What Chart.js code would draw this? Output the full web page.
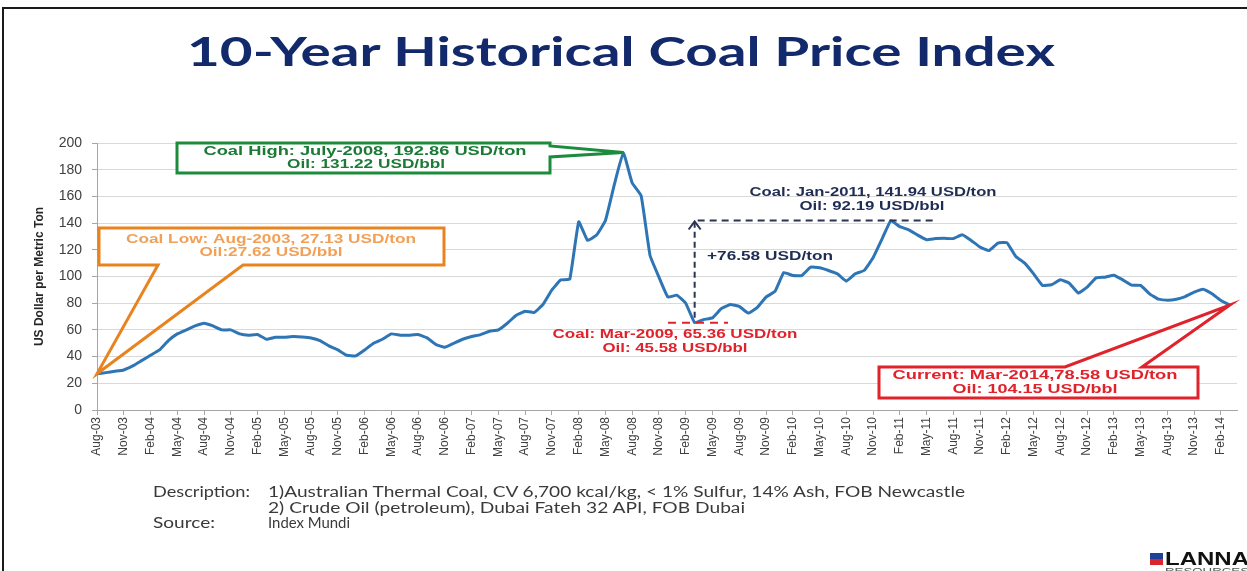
<!DOCTYPE html>
<html>
<head>
<meta charset="utf-8">
<script src="https://cdn.jsdelivr.net/npm/chart.js@4.4.1/dist/chart.umd.min.js"></script>
<style>
html, body { margin: 0; padding: 0; background: #fff; }
#wrap { position: relative; width: 1247px; height: 571px; overflow: hidden; }
#frame { position: absolute; left: 2px; top: 7px; width: 1300px; height: 700px; border-left: 2px solid #1a1a1a; border-top: 2px solid #1a1a1a; }
canvas { position: absolute; left: 0; top: 0; }
.t { position: absolute; white-space: nowrap; transform-origin: 0 50%; }
#title { left: 187px; top: 31px; font: 700 40px Lato; line-height: 40px; color: #12296b; }
.d { font: 14.5px Lato; line-height: 16px; color: #3a3a3a; }
#logo { position: absolute; left: 1150px; top: 552px; }
</style>
</head>
<body>
<div id="wrap">
  <canvas id="c" width="1247" height="571"></canvas>
  <div id="frame"></div>
  <div id="title" class="t" data-w="868">10-Year Historical Coal Price Index</div>
  <div class="t d" style="left:153px;top:484px" data-w="97">Description:</div>
  <div class="t d" style="left:268px;top:484px" data-w="697">1)Australian Thermal Coal, CV 6,700 kcal/kg, &lt; 1% Sulfur, 14% Ash, FOB Newcastle</div>
  <div class="t d" style="left:268px;top:500px" data-w="477">2) Crude Oil (petroleum), Dubai Fateh 32 API, FOB Dubai</div>
  <div class="t d" style="left:153px;top:515px" data-w="62">Source:</div>
  <div class="t d" style="left:268px;top:515px" data-w="82">Index Mundi</div>
  <div id="logo">
    <div style="position:absolute;left:0;top:1px;width:13px;height:6px;background:#1f3f99"></div>
    <div style="position:absolute;left:0;top:7px;width:13px;height:6px;background:#d9262c"></div>
    <div class="t" style="left:15px;top:-2px;font:900 18px 'Liberation Sans';line-height:18px;color:#111" data-w="84">LANNA</div>
    <div class="t" style="left:15px;top:15px;font:9px 'Liberation Sans';line-height:9px;color:#555" data-w="84">RESOURCES</div>
  </div>
</div>
<script>
// tick labels, one every 3 months (Aug-03 .. Feb-14)
const tickLabels = ['Aug-03', 'Nov-03', 'Feb-04', 'May-04', 'Aug-04', 'Nov-04', 'Feb-05', 'May-05',
  'Aug-05', 'Nov-05', 'Feb-06', 'May-06', 'Aug-06', 'Nov-06', 'Feb-07', 'May-07', 'Aug-07', 'Nov-07',
  'Feb-08', 'May-08', 'Aug-08', 'Nov-08', 'Feb-09', 'May-09', 'Aug-09', 'Nov-09', 'Feb-10', 'May-10',
  'Aug-10', 'Nov-10', 'Feb-11', 'May-11', 'Aug-11', 'Nov-11', 'Feb-12', 'May-12', 'Aug-12', 'Nov-12',
  'Feb-13', 'May-13', 'Aug-13', 'Nov-13', 'Feb-14'];

// monthly coal price, USD/ton, Aug-2003 .. Mar-2014
const coal = [
  27.13, 28, 29, 30, 33, 37, 41, 45, 52, 57, 60, 63,
  65, 63, 60, 60, 57, 56, 56.5, 53, 54.5, 54.5, 55, 54.7,
  54, 52, 48, 45, 41, 40.5, 45, 50, 53, 57, 56, 56,
  56.5, 54, 49, 47, 50, 53, 55, 56.5, 59, 60, 65, 71,
  74, 73, 79, 90, 97.5, 98, 141, 127, 131, 142, 169, 192.86,
  170, 160.5, 115.7, 99.5, 84.6, 86, 80, 65.36, 67.7, 69, 76, 79,
  77.6, 72.6, 76.6, 84.6, 88.8, 103, 100.7, 100.7, 107, 106.5, 104.5, 102,
  96.5, 102, 104.5, 114, 128, 141.94, 137.3, 135, 131, 127.6, 128.4, 128.6,
  128.4, 131.3, 127, 122, 119.4, 125, 125.4, 115, 110, 102, 93.3, 93.8,
  97.5, 95, 87.6, 92, 99, 99.5, 101, 97.5, 93.5, 93.3, 87, 83,
  82.3, 83, 85, 88.3, 90.5, 87, 82, 78.58
];

// months (index into coal) that the notes point at
const lowIdx = 0, highIdx = 59, dipIdx = 67, janIdx = 89, lastIdx = 127;

function wideText(ctx, txt, cx, cy, width, color) {
  ctx.save();
  ctx.font = 'bold 12px "Liberation Sans"';
  const w = ctx.measureText(txt).width;
  ctx.translate(cx, cy);
  ctx.scale(width / w, 1);
  ctx.fillStyle = color;
  ctx.textAlign = 'center';
  ctx.textBaseline = 'middle';
  ctx.fillText(txt, 0, 0);
  ctx.restore();
}

function callout(ctx, box, pts, stroke) {
  ctx.save();
  ctx.fillStyle = '#fff';
  ctx.fillRect(box.l, box.t, box.r - box.l, box.b - box.t);
  ctx.strokeStyle = stroke;
  ctx.lineWidth = 3;
  ctx.lineJoin = 'miter';
  ctx.beginPath();
  pts.forEach((p, k) => k ? ctx.lineTo(p[0], p[1]) : ctx.moveTo(p[0], p[1]));
  ctx.closePath();
  ctx.stroke();
  ctx.restore();
}

const notes = {
  id: 'notes',
  afterDatasetsDraw(chart) {
    const { ctx, scales: { x, y } } = chart;
    const px = i => x.getPixelForValue(i);
    const py = i => y.getPixelForValue(coal[i]);

    // coal low (orange)
    const lo = [px(lowIdx), py(lowIdx)];
    const ob = { l: 99, t: 228, r: 444, b: 265 };
    callout(ctx, ob, [[ob.l, ob.t], [ob.r, ob.t], [ob.r, ob.b], [243, ob.b], lo, [158, ob.b], [ob.l, ob.b]], '#e8841f');
    wideText(ctx, 'Coal Low: Aug-2003, 27.13 USD/ton', 271, 240, 290, '#f2a057');
    wideText(ctx, 'Oil:27.62 USD/bbl', 271, 253, 143, '#f2a057');

    // coal high (green)
    const hi = [px(highIdx), py(highIdx)];
    const gb = { l: 177, t: 143, r: 550, b: 173 };
    callout(ctx, gb, [[gb.l, gb.t], [gb.r, gb.t], [gb.r, 146], hi, [gb.r, 157], [gb.r, gb.b], [gb.l, gb.b]], '#1c8c3c');
    wideText(ctx, 'Coal High: July-2008, 192.86 USD/ton', 365, 152, 323, '#1b7a36');
    wideText(ctx, 'Oil: 131.22 USD/bbl', 366, 165, 158, '#1b7a36');

    // current (red)
    const cu = [px(lastIdx), py(lastIdx)];
    const rb = { l: 879, t: 367, r: 1198, b: 398 };
    callout(ctx, rb, [[rb.l, rb.t], [1065, rb.t], cu, [1142, rb.t], [rb.r, rb.t], [rb.r, rb.b], [rb.l, rb.b]], '#e0222b');
    wideText(ctx, 'Current: Mar-2014,78.58 USD/ton', 1035, 376, 285, '#e0222b');
    wideText(ctx, 'Oil: 104.15 USD/bbl', 1035, 390, 165, '#e0222b');

    // rise from the 2009 dip to the Jan-2011 peak
    const ax = px(dipIdx), ayTop = py(janIdx), ayBot = py(dipIdx);
    ctx.save();
    ctx.lineWidth = 2;
    ctx.strokeStyle = '#e0222b';
    ctx.setLineDash([8, 6]);
    ctx.beginPath(); ctx.moveTo(668, ayBot); ctx.lineTo(728, ayBot); ctx.stroke();
    ctx.strokeStyle = '#2a3552';
    ctx.setLineDash([7, 5]);
    ctx.beginPath(); ctx.moveTo(ax + 3, ayTop); ctx.lineTo(934, ayTop); ctx.stroke();
    ctx.setLineDash([6, 4]);
    ctx.beginPath(); ctx.moveTo(ax, ayBot - 5); ctx.lineTo(ax, ayTop + 2); ctx.stroke();
    ctx.setLineDash([]);
    ctx.beginPath(); ctx.moveTo(ax - 6, ayTop + 9); ctx.lineTo(ax, ayTop + 1); ctx.lineTo(ax + 6, ayTop + 9); ctx.stroke();
    ctx.restore();
    wideText(ctx, '+76.58 USD/ton', 770, 257, 126, '#1f2d55');
    wideText(ctx, 'Coal: Jan-2011, 141.94 USD/ton', 873, 193, 247, '#1f2d55');
    wideText(ctx, 'Oil: 92.19 USD/bbl', 872, 207, 145, '#1f2d55');
    wideText(ctx, 'Coal: Mar-2009, 65.36 USD/ton', 675, 335, 245, '#e0222b');
    wideText(ctx, 'Oil: 45.58 USD/bbl', 675, 349, 145, '#e0222b');
  }
};

new Chart(document.getElementById('c'), {
  type: 'line',
  data: {
    datasets: [{
      data: coal.map((v, i) => ({ x: i, y: v })),
      borderColor: '#2e75b6',
      borderWidth: 3,
      pointRadius: 0,
      tension: 0.1,
      fill: false
    }]
  },
  options: {
    responsive: false,
    animation: false,
    devicePixelRatio: 1,
    layout: { padding: { top: 143, right: 10, left: 0, bottom: 0 } },
    plugins: { legend: { display: false }, tooltip: { enabled: false } },
    scales: {
      x: {
        type: 'linear',
        min: 0,
        max: 127.8,
        afterBuildTicks: s => { s.ticks = tickLabels.map((_, k) => ({ value: k * 3 })); },
        afterFit: s => { s.height = 161; },
        grid: { drawOnChartArea: false, tickLength: 5, color: '#a6a6a6' },
        border: { color: '#a6a6a6' },
        ticks: {
          autoSkip: false, maxRotation: 90, minRotation: 90, padding: 2, color: '#404040',
          font: { family: "'Liberation Sans'", size: 12 },
          callback: v => tickLabels[v / 3]
        }
      },
      y: {
        min: 0,
        max: 200,
        afterFit: s => { s.width = 97; },
        grid: { color: '#d9d9d9', tickColor: '#a6a6a6', tickLength: 5 },
        border: { color: '#a6a6a6' },
        ticks: { stepSize: 20, padding: 10, color: '#404040', font: { family: "'Liberation Sans'", size: 14 } },
        title: {
          display: true, text: 'US Dollar per Metric Ton', color: '#262626',
          font: { family: "'Liberation Sans Narrow', 'Liberation Sans'", size: 12, weight: 'bold' },
          padding: { top: 32, bottom: 0 }
        }
      }
    }
  },
  plugins: [notes]
});

// the source slide is stretched sideways; fit each text to its width
document.querySelectorAll('[data-w]').forEach(el => {
  const w = el.getBoundingClientRect().width;
  el.style.transform = 'scaleX(' + (el.dataset.w / w) + ')';
});
</script>
</body>
</html>
